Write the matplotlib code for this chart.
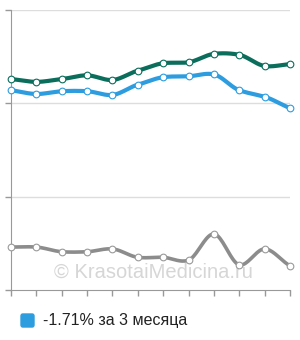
import numpy as np
import matplotlib
matplotlib.use("Agg")
import matplotlib.pyplot as plt
from matplotlib.patches import FancyBboxPatch

# values (y axis: 0..3, gridlines at 1, 2, 3)
months = list(range(12))
green = [2.26, 2.23, 2.26, 2.30, 2.25, 2.35, 2.43, 2.44, 2.53, 2.52, 2.40, 2.42]
blue = [2.14, 2.10, 2.13, 2.13, 2.09, 2.20, 2.28, 2.29, 2.31, 2.14, 2.07, 1.95]
gray = [0.46, 0.46, 0.41, 0.41, 0.44, 0.35, 0.35, 0.32, 0.60, 0.27, 0.44, 0.26]
legend_label = "-1.71% за 3 месяца"
watermark = "© KrasotaiMedicina.ru"

plt.rcParams['font.family'] = ['Liberation Sans', 'DejaVu Sans']


def smooth(x, y, n=20):
    # cardinal spline drawing between the points (like a "spline" series)
    x = np.asarray(x, float)
    y = np.asarray(y, float)
    m = np.gradient(y, x)
    xs, ys = [], []
    for i in range(len(x) - 1):
        h = x[i + 1] - x[i]
        t = np.linspace(0, 1, n, endpoint=False)
        h00 = 2 * t**3 - 3 * t**2 + 1
        h10 = t**3 - 2 * t**2 + t
        h01 = -2 * t**3 + 3 * t**2
        h11 = t**3 - t**2
        xs.append(x[i] + t * h)
        ys.append(h00 * y[i] + h10 * h * m[i] * 0.8 + h01 * y[i + 1] + h11 * h * m[i + 1] * 0.8)
    xs.append([x[-1]])
    ys.append([y[-1]])
    return np.concatenate(xs), np.concatenate(ys)


fig = plt.figure(figsize=(3.0, 3.4), dpi=100)
ax = fig.add_axes([11 / 300, 50 / 340, 279 / 300, 280 / 340])

series = [(green, '#0b6e5c', '#0b6e5c', 3.0),
          (blue, '#2e9de0', '#2e9de0', 3.0),
          (gray, '#8c8c8c', '#9a9a9a', 2.6)]
for vals, col, edge, lw in series:
    sx, sy = smooth(months, vals)
    ax.plot(sx, sy, color=col, lw=lw, solid_capstyle='round', zorder=3)
    ax.plot(months, vals, 'o', ms=4.8, mfc='white', mec=edge, mew=0.8, zorder=4, clip_on=False)

ax.set_xlim(0, 11)
ax.set_ylim(0, 3)
ax.set_yticks([0, 1, 2, 3])
ax.set_xticks(months)
ax.set_yticklabels([])
ax.set_xticklabels([])
for y in [1, 2, 3]:
    ax.axhline(y, color='#dddddd', lw=1, zorder=1)
for s in ['top', 'right']:
    ax.spines[s].set_visible(False)
ax.spines['left'].set_color('#999999')
ax.spines['bottom'].set_color('#999999')
ax.tick_params(axis='both', colors='#999999', length=4, width=1)

ax.text(0.51, 0.065, watermark, transform=ax.transAxes, ha='center', va='center',
        fontsize=14.5, color='#d6d6d6', zorder=2)

fig.patches.append(FancyBboxPatch((21 / 300, (340 - 327) / 340), 13 / 300, 13 / 340,
                                  boxstyle='round,pad=0,rounding_size=0.006',
                                  transform=fig.transFigure, color='#2e9de0'))
fig.text(43 / 300, (340 - 321) / 340, legend_label, fontsize=11.5, color='#222222',
         ha='left', va='center')

fig.savefig('out.png', dpi=100)
